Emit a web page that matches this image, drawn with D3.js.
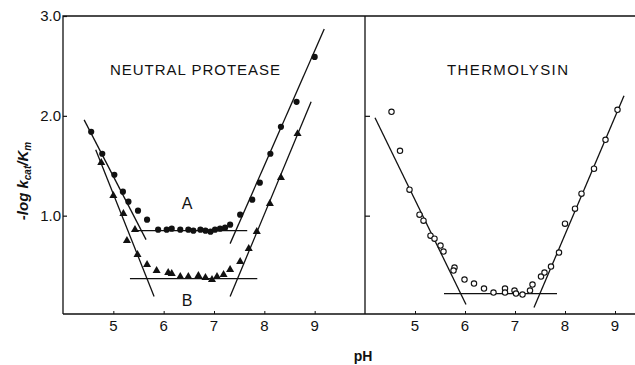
<!DOCTYPE html>
<html>
<head>
<meta charset="utf-8">
<script src="https://cdn.jsdelivr.net/npm/d3@7.8.5/dist/d3.min.js"></script>
<style>
  body { margin: 0; background: #fff; }
  svg { display: block; font-family: "Liberation Sans", Arial, sans-serif; }
</style>
</head>
<body>
<svg width="635" height="365"></svg>
<script>
// ---- data ----
const xTicks = [5, 6, 7, 8, 9];
const yTicks = [1.0, 2.0, 3.0];

// neutral protease, curve A (filled circles)
const proteaseA = [
  [4.56, 1.84], [4.78, 1.62], [5.02, 1.41], [5.19, 1.24], [5.30, 1.14],
  [5.49, 1.05], [5.67, 0.96], [5.89, 0.86], [6.06, 0.86], [6.16, 0.87],
  [6.33, 0.86], [6.49, 0.86], [6.59, 0.85], [6.73, 0.86], [6.83, 0.85],
  [6.93, 0.84], [7.02, 0.86], [7.12, 0.87], [7.22, 0.88], [7.32, 0.91],
  [7.52, 1.01], [7.76, 1.16], [7.91, 1.33], [8.12, 1.62], [8.33, 1.89],
  [8.64, 2.14], [9.00, 2.59]
];
// neutral protease, curve B (filled triangles)
const proteaseB = [
  [4.76, 1.53], [5.00, 1.20], [5.20, 1.02], [5.43, 0.86], [5.27, 0.75],
  [5.48, 0.61], [5.67, 0.51], [5.86, 0.45], [6.09, 0.43], [6.16, 0.42],
  [6.33, 0.39], [6.49, 0.39], [6.69, 0.40], [6.83, 0.38], [6.96, 0.36],
  [7.06, 0.39], [7.19, 0.41], [7.32, 0.46], [7.52, 0.54], [7.69, 0.67],
  [7.85, 0.84], [8.11, 1.12], [8.33, 1.38], [8.66, 1.82]
];
// thermolysin (open circles)
const thermolysin = [
  [4.53, 2.04], [4.70, 1.65], [4.89, 1.26], [5.09, 1.01], [5.17, 0.95],
  [5.31, 0.80], [5.39, 0.77], [5.51, 0.70], [5.57, 0.64], [5.79, 0.48],
  [5.77, 0.45], [5.99, 0.36], [6.18, 0.32], [6.38, 0.27], [6.57, 0.23],
  [6.80, 0.27], [6.80, 0.23], [6.99, 0.25], [7.02, 0.22], [7.15, 0.21],
  [7.30, 0.25], [7.35, 0.31], [7.52, 0.39], [7.59, 0.43], [7.72, 0.49],
  [7.88, 0.63], [8.00, 0.92], [8.20, 1.07], [8.33, 1.22], [8.58, 1.47],
  [8.81, 1.76], [9.05, 2.06]
];

// fitted straight lines, as [start, end] in pH / value
const proteaseLines = [
  [[4.42, 1.96], [5.65, 0.76]],
  [[4.65, 1.66], [5.81, 0.19]],
  [[5.39, 0.85], [7.66, 0.85]],
  [[5.33, 0.37], [7.86, 0.37]],
  [[7.32, 0.72], [9.19, 2.87]],
  [[7.32, 0.19], [8.93, 2.14]]
];
const thermolysinLines = [
  [[4.20, 1.98], [6.02, 0.11]],
  [[5.58, 0.22], [7.84, 0.22]],
  [[7.38, 0.08], [9.18, 2.20]]
];

// ---- layout ----
const svg = d3.select("svg");
const yTop = 16, yBot = 314, xLeft = 63, xMid = 365;

const y = d3.scaleLinear().domain([0, 3]).range([315.5, 16]);
const xL = d3.scaleLinear().domain([4, 10]).range([xLeft, xMid]);
const xR = d3.scaleLinear().domain([4, 10]).range([xMid, xMid + 300]);

const ink = "#111";

// frame
svg.append("path")
  .attr("d", `M${xLeft},${yBot}V${yTop}H635M${xLeft},${yBot}H635M${xMid},${yTop}V${yBot}`)
  .attr("fill", "none").attr("stroke", ink).attr("stroke-width", 1.3);

// left y axis (inward ticks)
const gy = svg.append("g").attr("transform", `translate(${xLeft},0)`)
  .call(d3.axisRight(y).tickValues(yTicks).tickSize(4).tickFormat(""));
gy.select(".domain").remove();
gy.selectAll("line").attr("stroke", ink).attr("stroke-width", 1.2);
svg.append("g").selectAll("text").data(yTicks).join("text")
  .attr("x", xLeft - 2).attr("y", d => y(d)).attr("dy", "0.36em")
  .attr("text-anchor", "end").attr("font-size", 15).attr("fill", ink)
  .text(d => d.toFixed(1));

// right panel y ticks
const gy2 = svg.append("g").attr("transform", `translate(${xMid},0)`)
  .call(d3.axisRight(y).tickValues([1.0, 2.0]).tickSize(5).tickFormat(""));
gy2.select(".domain").remove();
gy2.selectAll("line").attr("stroke", ink).attr("stroke-width", 1.2);

// x axes
[xL, xR].forEach(sc => {
  const g = svg.append("g").attr("transform", `translate(0,${yBot})`)
    .call(d3.axisTop(sc).tickValues(xTicks).tickSize(3).tickFormat(""));
  g.select(".domain").remove();
  g.selectAll("line").attr("stroke", ink);
  svg.append("g").selectAll("text").data(xTicks).join("text")
    .attr("x", d => sc(d)).attr("y", 331)
    .attr("text-anchor", "middle").attr("font-size", 15).attr("fill", ink)
    .text(d => d);
});

// fit lines
const seg = (sc) => d3.line().x(d => sc(d[0])).y(d => y(d[1]));
svg.append("g").selectAll("path").data(proteaseLines).join("path")
  .attr("d", seg(xL)).attr("stroke", ink).attr("stroke-width", 1.3).attr("fill", "none");
svg.append("g").selectAll("path").data(thermolysinLines).join("path")
  .attr("d", seg(xR)).attr("stroke", ink).attr("stroke-width", 1.3).attr("fill", "none");

// markers
svg.append("g").selectAll("circle").data(proteaseA).join("circle")
  .attr("cx", d => xL(d[0])).attr("cy", d => y(d[1])).attr("r", 3.1).attr("fill", ink);
const tri = d3.symbol(d3.symbolTriangle, 28);
svg.append("g").selectAll("path").data(proteaseB).join("path")
  .attr("transform", d => `translate(${xL(d[0])},${y(d[1])})`)
  .attr("d", tri).attr("fill", ink);
svg.append("g").selectAll("circle").data(thermolysin).join("circle")
  .attr("cx", d => xR(d[0])).attr("cy", d => y(d[1])).attr("r", 2.7)
  .attr("fill", "#fff").attr("stroke", ink).attr("stroke-width", 1.1);

// titles and labels
svg.append("text").attr("x", 110).attr("y", 75).attr("font-size", 15)
  .attr("textLength", 170).attr("lengthAdjust", "spacing").attr("fill", ink)
  .text("NEUTRAL PROTEASE");
svg.append("text").attr("x", 447).attr("y", 75).attr("font-size", 15)
  .attr("textLength", 121).attr("lengthAdjust", "spacing").attr("fill", ink)
  .text("THERMOLYSIN");
svg.append("text").attr("x", 187).attr("y", 209).attr("text-anchor", "middle")
  .attr("font-size", 16).attr("fill", ink).text("A");
svg.append("text").attr("x", 187).attr("y", 306).attr("text-anchor", "middle")
  .attr("font-size", 16).attr("fill", ink).text("B");
svg.append("text").attr("x", 363).attr("y", 361).attr("text-anchor", "middle")
  .attr("font-size", 14).attr("font-weight", "bold").attr("fill", ink).text("pH");

const yl = svg.append("text")
  .attr("transform", "translate(28,181) rotate(-90)")
  .attr("text-anchor", "middle").attr("font-size", 15)
  .attr("font-style", "italic").attr("font-weight", "bold").attr("fill", ink);
yl.append("tspan").text("-log  k");
yl.append("tspan").attr("font-size", 10).attr("dy", 3).text("cat");
yl.append("tspan").attr("dy", -3).text("/K");
yl.append("tspan").attr("font-size", 10).attr("dy", 3).text("m");
</script>
</body>
</html>
